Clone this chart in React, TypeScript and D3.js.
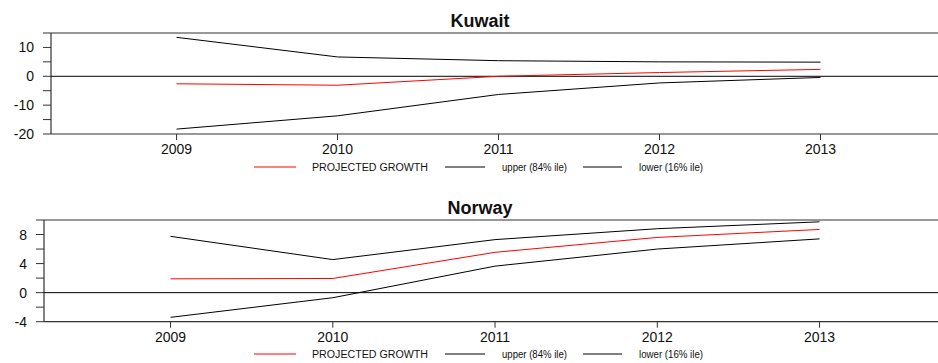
import React from "react";
import * as d3 from "d3";

const years = [2009, 2010, 2011, 2012, 2013];

const kuwaitProjected = [-2.6, -3.1, 0.0, 1.3, 2.4];
const kuwaitUpper = [13.5, 6.7, 5.4, 5.0, 4.9];
const kuwaitLower = [-18.3, -13.7, -6.3, -2.3, -0.4];

const norwayProjected = [1.9, 1.95, 5.55, 7.6, 8.7];
const norwayUpper = [7.75, 4.55, 7.3, 8.8, 9.75];
const norwayLower = [-3.4, -0.7, 3.65, 6.0, 7.4];

const kuwaitMajorTicks = [10, 0, -10, -20];
const kuwaitMinorTicks = [15, 5, -5, -15];
const norwayMajorTicks = [8, 4, 0, -4];
const norwayMinorTicks = [10, 6, 2, -2];

const legendLabels = ["PROJECTED GROWTH", "upper (84% ile)", "lower (16% ile)"];
const legendColors = ["#ff0000", "#000000", "#000000"];

const FONT = "'Liberation Sans', Arial, Helvetica, sans-serif";
const W = 938;

type PanelProps = {
  title: string;
  titleY: number;
  left: number;
  top: number;
  bottom: number;
  yDomain: [number, number];
  major: number[];
  minor: number[];
  projected: number[];
  upper: number[];
  lower: number[];
  legendY: number;
};

function Panel(p: PanelProps) {
  const x = d3.scaleLinear().domain([2008.22, 2013.73]).range([p.left, W]);
  const y = d3.scaleLinear().domain(p.yDomain).range([p.bottom, p.top]);
  const line = (vals: number[]) =>
    d3
      .line<number>()
      .x((_, i) => x(years[i]))
      .y((v) => y(v))(vals) || "";
  const series = [p.projected, p.upper, p.lower];
  const axisColor = "#333";
  const legendLineX = [
    [254, 296],
    [445, 485],
    [583, 622],
  ];
  const legendTextX = [312, 502, 639];
  const legendTextW = [116, 65, 64];
  return (
    <g>
      <text
        x={480}
        y={p.titleY}
        textAnchor="middle"
        fontFamily={FONT}
        fontWeight="bold"
        fontSize={18}
        fill="#111"
      >
        {p.title}
      </text>
      {/* frame */}
      <line x1={p.left} x2={W} y1={p.top} y2={p.top} stroke={axisColor} strokeWidth={1.2} />
      <line x1={p.left} x2={W} y1={p.bottom} y2={p.bottom} stroke={axisColor} strokeWidth={1.2} />
      <line x1={p.left} x2={p.left} y1={p.top} y2={p.bottom} stroke={axisColor} strokeWidth={1.2} />
      {/* zero line */}
      <line x1={p.left} x2={W} y1={y(0)} y2={y(0)} stroke="#000" strokeWidth={1} />
      {/* y ticks */}
      {p.major.concat(p.minor).map((t) => (
        <line key={"yt" + t} x1={p.left - 8} x2={p.left} y1={y(t)} y2={y(t)} stroke={axisColor} strokeWidth={1} />
      ))}
      {p.major.map((t) => (
        <text
          key={"yl" + t}
          x={p.left - 17}
          y={y(t)}
          dy="0.36em"
          textAnchor="end"
          fontFamily={FONT}
          fontSize={14}
          fill="#111"
        >
          {t}
        </text>
      ))}
      {/* x ticks */}
      {years.map((yr) => (
        <g key={"xt" + yr}>
          <line x1={x(yr)} x2={x(yr)} y1={p.bottom} y2={p.bottom + 6} stroke={axisColor} strokeWidth={1} />
          <text
            x={x(yr)}
            y={p.bottom + 20}
            textAnchor="middle"
            fontFamily={FONT}
            fontSize={14}
            fill="#111"
          >
            {yr}
          </text>
        </g>
      ))}
      {/* series */}
      {series.map((s, i) => (
        <path key={"s" + i} d={line(s)} fill="none" stroke={legendColors[i]} strokeWidth={1} />
      ))}
      {/* legend */}
      {legendLabels.map((lab, i) => (
        <g key={"lg" + i}>
          <line
            x1={legendLineX[i][0]}
            x2={legendLineX[i][1]}
            y1={p.legendY}
            y2={p.legendY}
            stroke={legendColors[i]}
            strokeWidth={1}
          />
          <text
            x={legendTextX[i]}
            y={p.legendY + 3.5}
            fontFamily={FONT}
            fontSize={10}
            fill="#111"
            textLength={legendTextW[i]}
            lengthAdjust="spacingAndGlyphs"
          >
            {lab}
          </text>
        </g>
      ))}
    </g>
  );
}

export default function App() {
  return (
    <div style={{ position: "absolute", left: 0, top: 0 }}>
      <svg width={W} height={363} style={{ display: "block", background: "#fff" }}>
        <rect width={W} height={363} fill="#fff" />
        <Panel
          title="Kuwait"
          titleY={26.5}
          left={51}
          top={33}
          bottom={134}
          yDomain={[-20, 15]}
          major={kuwaitMajorTicks}
          minor={kuwaitMinorTicks}
          projected={kuwaitProjected}
          upper={kuwaitUpper}
          lower={kuwaitLower}
          legendY={167}
        />
        <Panel
          title="Norway"
          titleY={213.5}
          left={44}
          top={220}
          bottom={321.7}
          yDomain={[-4, 10]}
          major={norwayMajorTicks}
          minor={norwayMinorTicks}
          projected={norwayProjected}
          upper={norwayUpper}
          lower={norwayLower}
          legendY={354}
        />
      </svg>
    </div>
  );
}
